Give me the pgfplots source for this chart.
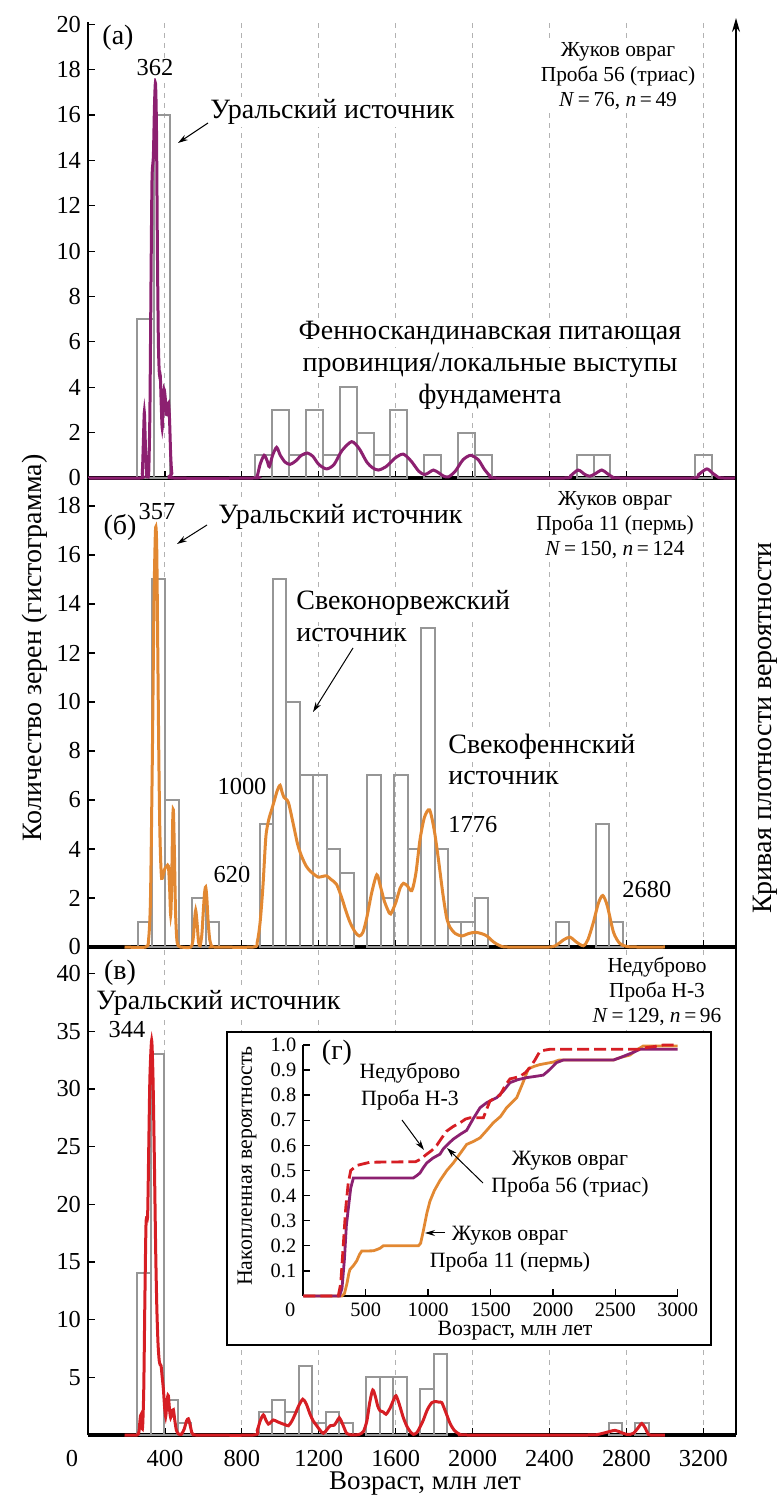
\documentclass[border=0pt]{standalone}
\usepackage{fontspec}
\setmainfont{Liberation Serif}
\usepackage{pgfplots}
\pgfplotsset{compat=1.18}
\usetikzlibrary{arrows.meta}
\definecolor{histgray}{RGB}{150,150,150}
\definecolor{pdppurple}{RGB}{140,32,112}
\definecolor{pdporange}{RGB}{226,136,50}
\definecolor{pdpred}{RGB}{214,30,36}
\newcommand{\fs}{\fontsize{12.2}{14}\selectfont}
\newcommand{\fa}{\fontsize{14}{16}\selectfont}
\newcommand{\fb}{\fontsize{10.7}{12.5}\selectfont}
\newcommand{\fc}{\fontsize{10.9}{13.5}\selectfont}
\pgfplotsset{
 panel/.style={
  scale only axis, width=324pt, xmin=0, xmax=3370,
  axis x line=bottom, axis y line=left,
  axis line style={-},
  x axis line style={line width=1.6pt, black},
  y axis line style={line width=0.6pt, black},
  tick align=inside,
  xtick={400,800,...,3200},
  xmajorgrids=true,
  major grid style={gray!60, line width=0.5pt, dash pattern=on 2.5pt off 2.5pt},
  major tick length=3.5pt,
  tick style={black, line width=0.6pt},
  /pgf/number format/assume math mode=true,
  /pgf/number format/1000 sep={},
  ticklabel style={font=\fs},
  xticklabel style={yshift=-4pt},
  clip=false,
  anchor=south west,
 },
 bars/.style={ybar, bar shift=0pt, draw=histgray, line width=1pt, fill=none},
 pdp/.style={line width=1.5pt, smooth, tension=0.45},
}
\begin{document}
\begin{tikzpicture}[font=\fs]
\useasboundingbox (0,0) rectangle (389pt,747.5pt);

% ---------------- panel a ----------------
\begin{axis}[panel, at={(44pt,508.5pt)}, height=228pt, ymin=0, ymax=20.1,
  ytick={0,2,...,20}, xticklabels={}]
\addplot[bars, bar width=88] coordinates {(297,7) (385,16) (913,1) (1001,3) (1089,1) (1177,3) (1265,1) (1353,4) (1441,2) (1529,1) (1617,3) (1793,1) (1969,2) (2057,1) (2585,1) (2673,1) (3201,1)};
\addplot[pdp, pdppurple] coordinates {(0,0) (270,0) (282,0.2) (288,1.6) (293,2.9) (298,1.6) (304,0.2) (310,0.05) (316,0.3) (322,3) (328,9) (333,13.2) (340,14.2) (346,16.5) (351,17.4) (356,15.5) (361,10) (366,6) (371,4.6) (376,4.5) (381,3.2) (386,2.2) (391,3.2) (396,3.9) (402,3.5) (408,2.8) (413,3.0) (419,3.3) (424,2.6) (430,1.0) (436,0.2) (445,0) (860,0) (880,0.1) (895,0.6) (916,1.0) (932,0.75) (943,0.5) (960,1.0) (981,1.35) (1000,1.0) (1025,0.7) (1051,0.6) (1080,0.75) (1110,1.0) (1141,1.1) (1170,0.95) (1200,0.6) (1241,0.4) (1280,0.6) (1320,1.2) (1371,1.6) (1410,1.3) (1450,0.7) (1480,0.45) (1510,0.35) (1550,0.5) (1600,0.9) (1640,1.05) (1680,0.75) (1720,0.3) (1750,0.15) (1775,0.25) (1796,0.35) (1820,0.25) (1850,0.08) (1875,0.05) (1910,0.3) (1950,0.8) (1990,1.0) (2030,0.8) (2060,0.4) (2090,0.1) (2120,0) (2480,0) (2510,0.1) (2549,0.35) (2585,0.15) (2611,0.08) (2640,0.2) (2672,0.35) (2700,0.2) (2730,0.03) (2760,0) (3140,0) (3175,0.15) (3218,0.4) (3250,0.2) (3280,0.02) (3300,0) (3370,0)};
\end{axis}

% ---------------- panel b ----------------
\begin{axis}[panel, at={(44pt,274pt)}, height=234.5pt, ymin=0, ymax=19.14,
  ytick={0,2,...,18}, xticklabels={}]
\addplot[bars, bar width=70] coordinates {(297,1) (367,15) (437,6) (577,2) (647,1) (927,5) (997,15) (1067,10) (1137,7) (1207,7) (1277,4) (1347,3) (1487,7) (1557,2) (1627,7) (1697,4) (1767,13) (1837,4) (1907,1) (1977,1) (2047,2) (2467,1) (2677,5) (2747,1)};
\addplot[pdp, pdporange] coordinates {(190,0) (300,0) (315,0.3) (325,2) (335,8) (343,14) (350,16.8) (354,17.1) (358,16) (363,12) (368,8) (373,5) (378,3.5) (383,2.8) (390,2.9) (400,3.2) (410,3.3) (418,3.3) (424,2.5) (430,1.3) (435,2.5) (440,5.0) (444,5.6) (449,4) (455,1.5) (462,0.3) (470,0.05) (480,0) (535,0) (548,0.4) (553,1.0) (560,1.5) (567,1.0) (575,0.2) (583,0.05) (592,0.5) (600,1.5) (606,2.2) (612,2.45) (618,2.0) (625,1.0) (633,0.3) (643,0.03) (655,0) (860,0) (880,0.2) (895,1) (910,2.5) (925,4.5) (940,5.2) (955,5.6) (970,6.0) (985,6.4) (999,6.6) (1010,6.3) (1020,6.1) (1042,5.9) (1068,5.0) (1090,4.2) (1111,3.7) (1135,3.3) (1155,3.1) (1178,2.95) (1198,2.85) (1220,2.88) (1241,2.9) (1265,2.75) (1293,2.55) (1320,2.0) (1340,1.5) (1363,1.0) (1390,0.6) (1411,0.45) (1430,0.6) (1450,1.2) (1475,2.2) (1502,2.95) (1520,2.5) (1540,1.9) (1560,1.5) (1574,1.35) (1600,1.8) (1623,2.4) (1640,2.6) (1660,2.5) (1684,2.3) (1705,3.0) (1727,4.4) (1750,5.3) (1776,5.6) (1800,4.8) (1822,3.6) (1845,2.2) (1865,1.2) (1883,0.8) (1910,0.55) (1944,0.45) (1980,0.55) (2013,0.6) (2045,0.55) (2074,0.45) (2110,0.2) (2143,0.05) (2180,0) (2400,0) (2440,0.1) (2475,0.3) (2507,0.4) (2540,0.2) (2576,0.05) (2600,0.3) (2628,1.0) (2655,1.8) (2677,2.1) (2700,1.7) (2733,0.6) (2765,0.15) (2802,0.02) (2850,0) (3000,0)};
\end{axis}

% ---------------- panel c ----------------
\begin{axis}[panel, at={(44pt,30pt)}, height=244pt, ymin=0, ymax=42.3,
  ytick={5,10,...,40},
  extra x ticks={0}, extra x tick labels={0},
  extra x tick style={grid=none, tick style={draw=none}, xticklabel style={xshift=-8pt}}]
\addplot[bars, bar width=70] coordinates {(292,14) (362,33) (432,3) (502,1) (922,2) (992,3) (1062,2) (1132,6) (1202,1) (1272,2) (1342,1) (1482,5) (1552,5) (1622,5) (1762,4) (1832,7) (2742,1) (2882,1)};
\addplot[pdp, pdpred] coordinates {(190,0) (255,0) (265,0.3) (270,1.2) (274,1.7) (279,0.8) (284,0.7) (290,4) (296,12) (302,18.4) (310,19) (316,25) (322,31) (331,34.2) (338,31) (345,24) (352,16) (358,11) (364,8) (370,6.5) (375,6.1) (380,6.0) (386,5.0) (392,4.0) (398,2.5) (404,1.6) (409,2.5) (414,3.3) (418,3.4) (424,2.2) (430,1.5) (437,2.0) (444,2.2) (452,1.2) (460,0.4) (470,0.1) (485,0.05) (500,0.5) (512,1.2) (522,1.4) (532,0.8) (540,0.2) (548,0.02) (560,0) (860,0) (880,0.4) (895,1.2) (912,1.75) (925,1.3) (938,0.95) (950,1.1) (964,1.3) (985,1.15) (1007,1.0) (1025,0.9) (1042,0.8) (1060,1.2) (1077,1.8) (1095,2.5) (1117,3.1) (1135,2.7) (1155,1.8) (1172,1.2) (1190,0.8) (1207,0.4) (1224,0.15) (1242,0.45) (1259,0.8) (1280,0.85) (1295,1.2) (1307,1.5) (1320,1.1) (1335,0.5) (1345,0.15) (1365,0.02) (1380,0) (1410,0.05) (1432,0.3) (1450,1.2) (1465,2.8) (1481,3.9) (1495,3.3) (1507,2.5) (1519,2.1) (1535,2.0) (1550,1.8) (1570,2.3) (1588,3.0) (1602,3.4) (1620,2.6) (1640,1.5) (1660,0.7) (1680,0.2) (1692,0.05) (1710,0.2) (1730,0.8) (1744,1.3) (1765,2.2) (1788,2.8) (1810,2.9) (1825,2.85) (1840,2.8) (1860,2.0) (1883,1.0) (1905,0.4) (1935,0.05) (1970,0) (2600,0) (2646,0.03) (2690,0.2) (2741,0.4) (2775,0.2) (2802,0.05) (2820,0.05) (2837,0.15) (2860,0.6) (2880,1.0) (2898,0.6) (2915,0.05) (2940,0) (3000,0)};
\end{axis}

% ---------------- inset box ----------------
\begin{scope}[x=0.5pt, y=-0.5pt, yshift=747.5pt]
\draw[line width=1pt, fill=white] (227,1032) rectangle (711,1345);
\end{scope}

% ---------------- inset (g) ----------------
\begin{axis}[scale only axis, anchor=south west, at={(151.65pt,99.5pt)},
  width=187.2pt, height=125.5pt, xmin=0, xmax=3000, ymin=0, ymax=1,
  axis x line=bottom, axis y line=left, axis line style={-, line width=0.9pt, black},
  tick align=inside, major tick length=3.5pt, tick style={black, line width=0.7pt},
  xtick={500,1000,...,3000}, ytick={0.1,0.2,...,1.0},
  yticklabel style={/pgf/number format/.cd, fixed, fixed zerofill, precision=1},
  /pgf/number format/assume math mode=true,
  /pgf/number format/1000 sep={},
  ticklabel style={font=\fontsize{10.2}{12}\selectfont},
  xticklabel style={yshift=0pt},
  extra x ticks={0}, extra x tick labels={0},
  extra x tick style={tick style={draw=none}, xticklabel style={xshift=-6.5pt}},
  clip=false]
\addplot[pdporange, line width=1.4pt] coordinates {(0,0) (310,0) (330,0.01) (350,0.05) (365,0.09) (374,0.106) (400,0.12) (428,0.14) (450,0.165) (468,0.179) (561,0.18) (590,0.185) (614,0.19) (641,0.2) (922,0.2) (940,0.21) (962,0.26) (990,0.33) (1015,0.378) (1050,0.42) (1095,0.46) (1150,0.5) (1202,0.53) (1260,0.57) (1309,0.604) (1360,0.615) (1416,0.63) (1470,0.66) (1522,0.69) (1580,0.715) (1629,0.75) (1670,0.77) (1710,0.79) (1760,0.85) (1803,0.905) (1850,0.915) (1896,0.922) (1950,0.927) (2003,0.932) (2050,0.94) (2484,0.94) (2540,0.95) (2618,0.96) (2670,0.98) (2724,0.996) (3000,0.996)};
\addplot[pdppurple, line width=1.4pt] coordinates {(0,0) (290,0) (310,0.03) (330,0.15) (345,0.28) (361,0.35) (380,0.43) (401,0.47) (881,0.47) (910,0.48) (935,0.49) (960,0.51) (989,0.53) (1040,0.55) (1095,0.565) (1120,0.585) (1149,0.6) (1180,0.615) (1202,0.625) (1260,0.645) (1309,0.66) (1360,0.705) (1416,0.75) (1469,0.77) (1549,0.79) (1600,0.815) (1656,0.85) (1720,0.862) (1790,0.87) (1860,0.875) (1923,0.88) (1970,0.9) (2030,0.93) (2083,0.94) (2484,0.94) (2540,0.95) (2591,0.96) (2650,0.972) (2698,0.983) (3000,0.983)};
\addplot[pdpred, line width=1.4pt, dash pattern=on 6pt off 2.5pt] coordinates {(0,0) (280,0) (300,0.05) (320,0.2) (340,0.35) (360,0.45) (380,0.5) (428,0.52) (534,0.533) (900,0.535) (940,0.545) (989,0.565) (1030,0.58) (1069,0.6) (1110,0.63) (1149,0.657) (1200,0.675) (1256,0.69) (1300,0.705) (1336,0.71) (1443,0.71) (1470,0.745) (1496,0.777) (1540,0.79) (1576,0.8) (1620,0.84) (1656,0.865) (1700,0.87) (1736,0.875) (1780,0.89) (1816,0.91) (1856,0.94) (1896,0.975) (1940,0.98) (1977,0.983) (2700,0.983) (2750,0.99) (2830,0.995) (2885,1.0) (3000,1.0)};
\end{axis}

% ---------------- annotations (pixel coordinates) ----------------
\begin{scope}[x=0.5pt, y=-0.5pt, yshift=747.5pt,
  lab/.style={inner sep=1pt, fill=white},
  arr/.style={line width=0.5pt, -{Stealth[length=5pt,width=3pt]}}]
\draw[line width=0.8pt, -{Stealth[length=7pt,width=4pt]}] (736,1435) -- (736,18);
\node[rotate=90, font=\fa] at (35,648) {Количество зерен (гистограмма)};
\node[rotate=90, font=\fa] at (765,728) {Кривая плотности вероятности};
\node[font=\fontsize{13.5}{16}\selectfont, anchor=base, inner sep=0pt] at (425,1490) {Возраст, млн лет};
% panel a
\node[font=\fa] at (118,38) {(а)};
\node[lab] at (155,68) {362};
\node[lab, anchor=west, font=\fa] at (208,112) {Уральский источник};
\draw[arr] (208,123) -- (178,143);
\node[lab, font=\fa] at (490,333) {Фенноскандинавская питающая};
\node[lab, font=\fa] at (490,365) {провинция/локальные выступы};
\node[lab, font=\fa] at (490,397) {фундамента};
\node[lab, align=center, font=\fb] at (618,76) {Жуков овраг\\Проба 56 (триас)\\\textit{N}\,=\,76, \textit{n}\,=\,49};
% panel b
\node[font=\fa] at (120,527) {(б)};
\node[inner sep=1pt] at (157,512) {357};
\node[lab, anchor=west, font=\fa] at (216,517) {Уральский источник};
\draw[arr] (207,525) -- (177,544);
\node[lab, anchor=west, font=\fa] at (294,603) {Свеконорвежский};
\node[lab, anchor=west, font=\fa] at (294,635) {источник};
\draw[arr] (353,648) -- (313,712);
\node[lab] at (242,787) {1000};
\node[lab] at (232,875) {620};
\node[lab, anchor=west, font=\fa] at (446,747) {Свекофеннский};
\node[lab, anchor=west, font=\fa] at (446,778) {источник};
\node[lab, anchor=west] at (446,825) {1776};
\node[lab, anchor=west] at (620,890) {2680};
\node[lab, align=center, font=\fb] at (615,525) {Жуков овраг\\Проба 11 (пермь)\\\textit{N}\,=\,150, \textit{n}\,=\,124};
% panel c
\node[font=\fa] at (120,973) {(в)};
\node[lab, anchor=west, font=\fa] at (94,1003) {Уральский источник};
\node[lab] at (127,1030) {344};
\node[lab, align=center, font=\fb] at (657,991) {Недуброво\\Проба Н-3\\\textit{N}\,=\,129, \textit{n}\,=\,96};
% inset
\node[font=\fa] at (337,1053) {(г)};
\node[rotate=90, font=\fc] at (247,1166) {Накопленная вероятность};
\node[font=\fc, inner sep=0pt] at (515,1331) {Возраст, млн лет};
\node[align=center, font=\fc] at (410,1087) {Недуброво\\Проба Н-3};
\draw[arr] (402,1120) -- (424,1150);
\node[align=center, font=\fc] at (570,1174) {Жуков овраг\\Проба 56 (триас)};
\draw[arr] (483,1183) -- (447,1148);
\node[align=center, font=\fc] at (510,1249) {Жуков овраг\\Проба 11 (пермь)};
\draw[arr] (445,1233) -- (425,1233);
\end{scope}
\end{tikzpicture}
\end{document}
